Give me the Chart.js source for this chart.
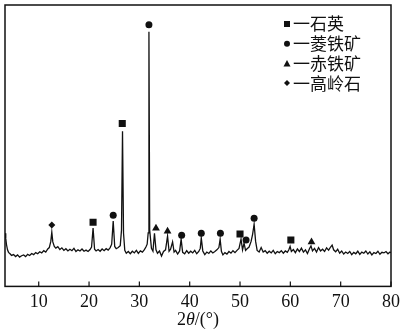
<!DOCTYPE html>
<html>
<head>
<meta charset="utf-8">
<script src="https://cdn.jsdelivr.net/npm/chart.js@4"></script>
<style>
  body { margin: 0; background: #fff; }
</style>
</head>
<body>
<canvas id="myChart" width="400" height="333"></canvas>
<script>
// XRD pattern, 2theta in degrees, intensity in arbitrary units
var twoTheta = [
  3.3, 3.45, 3.6, 3.8, 4.0, 4.3, 4.6, 5.0, 5.4, 5.8, 6.2, 6.6, 7.0, 7.4, 7.8, 8.2, 8.6, 9.0, 9.4, 9.8,
  10.2, 10.6, 11.0, 11.4, 11.8, 12.1, 12.4, 12.6, 12.8, 13.1,
  13.4, 13.8, 14.2, 14.6, 15.0, 15.4, 15.8, 16.2, 16.6, 17.0, 17.4, 17.8, 18.2, 18.6, 19.0, 19.4, 19.8,
  20.2, 20.5, 20.8, 21.1, 21.4,
  21.8, 22.2, 22.6, 23.0, 23.4, 23.8, 24.2, 24.5, 24.8, 25.1, 25.4, 25.8, 26.2, 26.45, 26.65, 26.85, 27.1,
  27.4, 27.8, 28.2, 28.6, 29.0, 29.4, 29.8, 30.2, 30.6, 31.0, 31.3, 31.55, 31.75, 31.9, 32.05, 32.4,
  32.7, 33.0, 33.3, 33.6, 34.0, 34.4, 34.8, 35.2, 35.6, 35.9, 36.2, 36.6, 36.9, 37.2, 37.6, 38.0, 38.3,
  38.6, 39.0, 39.4, 39.8,
  40.2, 40.6, 41.0, 41.4, 41.8, 42.1, 42.3, 42.6, 43.0, 43.4, 43.8, 44.2, 44.6, 45.0, 45.4, 45.8, 46.05,
  46.3, 46.6, 47.0, 47.4, 47.8, 48.2, 48.6, 49.0, 49.4, 49.8, 50.2, 50.5, 50.8, 51.1, 51.4, 51.8, 52.2,
  52.5, 52.8, 53.1, 53.4, 53.8,
  54.2, 54.6, 55.0, 55.4, 55.8, 56.2, 56.6, 57.0, 57.4, 57.8, 58.2, 58.6, 59.0, 59.4, 59.7, 59.95, 60.2,
  60.6, 61.0, 61.4, 61.8, 62.2, 62.6, 63.0, 63.4, 63.8, 64.1, 64.4, 64.8, 65.2, 65.6, 66.0, 66.4, 66.8,
  67.2, 67.6, 68.0, 68.3, 68.6, 69.0, 69.4, 69.8, 70.2, 70.6, 71.0, 71.4, 71.8, 72.2, 72.6, 73.0, 73.4,
  73.8, 74.2, 74.6, 75.0, 75.4, 75.8, 76.2, 76.6, 77.0, 77.4, 77.8, 78.2, 78.6, 79.0, 79.4, 79.8, 80.0
];
var counts = [
  189, 170, 148, 130, 121, 116, 110, 113, 106, 112, 104, 109, 112, 106, 114, 110, 117, 113, 120, 116,
  123, 119, 127, 122, 133, 138, 160, 193, 158, 142,
  136, 141, 131, 137, 128, 134, 126, 132, 127, 135, 124, 130, 126, 133, 125, 129, 124,
  131, 140, 207, 132, 126,
  131, 125, 133, 127, 134, 129, 138, 150, 232, 142, 134, 138, 145, 200, 551, 190, 128,
  118, 124, 116, 125, 119, 128, 117, 126, 122, 131, 140, 150, 190, 905, 200, 135,
  125, 189, 130, 118, 126, 108, 124, 130, 179, 125, 132, 158, 122, 128, 115, 126, 168,
  121, 116, 127, 118,
  125, 119, 128, 116, 124, 135, 172, 126, 113, 122, 117, 126, 119, 124, 130, 138, 168,
  125, 112, 120, 115, 124, 118, 127, 120, 128, 135, 168, 130, 154, 128, 134, 140, 160,
  185, 221, 160, 128, 122,
  138, 122, 127, 118, 125, 119, 128, 116, 124, 120, 127, 118, 126, 121, 130, 142, 124,
  131, 120, 133, 124, 136, 122, 130, 117, 134, 144, 126, 135, 122, 138, 126, 132, 124,
  137, 129, 140, 147, 130, 123, 132, 118, 126, 115, 122, 117, 124, 113, 121, 116, 125,
  114, 122, 118, 126, 115, 123, 112, 120, 117, 125, 114, 121, 119, 124, 116, 122, 120
];

// phase markers placed above the peaks
var quartzX = [20.8, 26.6, 50.0, 60.1];
var quartzY = [228, 579, 186, 165];
var sideriteX = [24.8, 31.9, 38.4, 42.3, 46.1, 51.2, 52.8];
var sideriteY = [253, 930, 182, 189, 189, 165, 242];
var hematiteX = [33.3, 35.6, 64.2];
var hematiteY = [207, 196, 158];
var kaoliniteX = [12.6];
var kaoliniteY = [218];

var phaseNames = ['石英', '菱铁矿', '赤铁矿', '高岭石'];
var phaseStyles = ['rect', 'circle', 'triangle', 'rectRot'];
var xTicks = [10, 20, 30, 40, 50, 60, 70, 80];

function toPoints(xs, ys) {
  return xs.map((x, i) => ({ x: x, y: ys[i] }));
}

var ink = '#111';

// frame, inward ticks, legend and the axis title
const decorations = {
  id: 'decorations',
  afterDraw(chart) {
    const ctx = chart.ctx;
    const a = chart.chartArea;
    const xs = chart.scales.x;
    ctx.save();
    ctx.strokeStyle = ink;
    ctx.lineWidth = 1.5;
    ctx.strokeRect(a.left, a.top, a.right - a.left, a.bottom - a.top);
    ctx.lineWidth = 1.2;
    xTicks.forEach(function (v) {
      const px = xs.getPixelForValue(v);
      ctx.beginPath();
      ctx.moveTo(px, a.bottom);
      ctx.lineTo(px, a.bottom - 5);
      ctx.stroke();
    });

    // legend
    ctx.fillStyle = ink;
    ctx.font = '17px "Noto Sans CJK SC"';
    ctx.textBaseline = 'middle';
    phaseNames.forEach(function (name, i) {
      const cy = 24 + i * 19.7;
      const cx = 287;
      ctx.beginPath();
      if (phaseStyles[i] === 'rect') {
        ctx.rect(cx - 3, cy - 3, 6, 6);
      } else if (phaseStyles[i] === 'circle') {
        ctx.arc(cx, cy, 3, 0, Math.PI * 2);
      } else if (phaseStyles[i] === 'triangle') {
        ctx.moveTo(cx, cy - 3.5);
        ctx.lineTo(cx + 3.5, cy + 3);
        ctx.lineTo(cx - 3.5, cy + 3);
        ctx.closePath();
      } else {
        ctx.moveTo(cx, cy - 3);
        ctx.lineTo(cx + 3, cy);
        ctx.lineTo(cx, cy + 3);
        ctx.lineTo(cx - 3, cy);
        ctx.closePath();
      }
      ctx.fill();
      ctx.fillText('一' + name, 293, cy);
    });

    // x title: 2θ/(°) with italic theta
    const parts = [['2', ''], ['θ', 'italic '], ['/(°)', '']];
    let total = 0;
    parts.forEach(function (p) {
      ctx.font = p[1] + '18px "Liberation Serif"';
      total += ctx.measureText(p[0]).width;
    });
    let tx = (a.left + a.right) / 2 - total / 2;
    ctx.textBaseline = 'middle';
    parts.forEach(function (p) {
      ctx.font = p[1] + '18px "Liberation Serif"';
      ctx.fillText(p[0], tx, 320);
      tx += ctx.measureText(p[0]).width;
    });
    ctx.restore();
  }
};

Chart.defaults.font.family = '"Liberation Serif"';
Chart.defaults.color = ink;

const ctx = document.getElementById('myChart');
new Chart(ctx, {
  type: 'scatter',
  data: {
    datasets: [
      {
        label: 'XRD',
        data: toPoints(twoTheta, counts),
        showLine: true,
        borderColor: ink,
        borderWidth: 1.3,
        pointRadius: 0,
        tension: 0
      },
      { label: phaseNames[0], data: toPoints(quartzX, quartzY), pointStyle: 'rect', pointRadius: 5, backgroundColor: ink, borderWidth: 0 },
      { label: phaseNames[1], data: toPoints(sideriteX, sideriteY), pointStyle: 'circle', pointRadius: 3.5, backgroundColor: ink, borderWidth: 0 },
      { label: phaseNames[2], data: toPoints(hematiteX, hematiteY), pointStyle: 'triangle', pointRadius: 4.5, backgroundColor: ink, borderWidth: 0 },
      { label: phaseNames[3], data: toPoints(kaoliniteX, kaoliniteY), pointStyle: 'rectRot', pointRadius: 3.5, backgroundColor: ink, borderWidth: 0 }
    ]
  },
  options: {
    responsive: false,
    animation: false,
    devicePixelRatio: 1,
    layout: { padding: { left: 0, right: 9, top: 2, bottom: 15 } },
    plugins: { legend: { display: false }, tooltip: { enabled: false } },
    scales: {
      x: {
        type: 'linear',
        min: 3.3,
        max: 80,
        grid: { display: false, drawTicks: false },
        border: { display: false },
        ticks: { stepSize: 10, includeBounds: false, padding: 5, font: { size: 18 }, maxRotation: 0 },
        afterFit: function (scale) {
          scale.paddingLeft = 0;
          scale.paddingRight = 0;
        }
      },
      y: {
        display: false,
        min: 0,
        max: 1000
      }
    }
  },
  plugins: [decorations]
});
</script>
</body>
</html>
